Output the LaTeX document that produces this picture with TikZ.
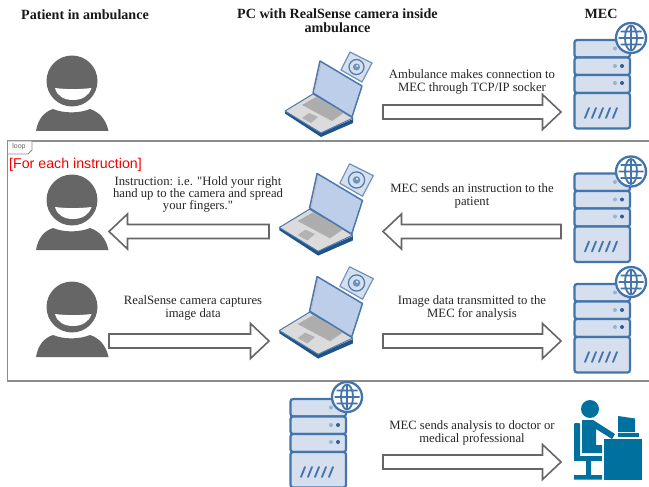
\documentclass[tikz,border=0pt]{standalone}
\usepackage{fontspec}
\setsansfont{Liberation Sans}
\newfontfamily\plainserif{Liberation Serif}
\usetikzlibrary{calc}
\definecolor{srvfill}{HTML}{D6DFED}
\definecolor{srvline}{HTML}{4474AC}
\definecolor{srvdot}{HTML}{2F5D98}
\definecolor{scr}{HTML}{BDCEEA}
\definecolor{lapline}{HTML}{4C78AC}
\definecolor{lapdark}{HTML}{1F5488}
\definecolor{personc}{HTML}{666666}
\definecolor{docc}{HTML}{00709F}
\definecolor{frameg}{HTML}{8C8C8C}
\newcommand{\blockarrow}[2]{%
  \draw[blockarr] ($(#1)+(0,-7)$) -- ($($(#2)!18.5pt!(#1)$)+(0,-7)$) -- ($($(#2)!18.5pt!(#1)$)+(0,-17.5)$)
    -- (#2) -- ($($(#2)!18.5pt!(#1)$)+(0,17.5)$) -- ($($(#2)!18.5pt!(#1)$)+(0,7)$) -- ($(#1)+(0,7)$) -- cycle;}
\tikzset{
  x=1pt,y=-1pt,
  blockarr/.style={draw=personc,line width=1.6pt,fill=white,line join=miter},
  lbl/.style={font=\plainserif\fontsize{12.7}{12.4}\selectfont,align=center,inner sep=0pt,text=black!85},
  head/.style={font=\plainserif\bfseries\fontsize{14.1}{14.2}\selectfont,align=center,inner sep=0pt,text=black!90},
  srvbox/.style={draw=srvline,fill=srvfill,line width=2.2pt,rounded corners=2.5pt},
  patient/.pic={
    \fill[personc] (36,131) .. controls (38,119) and (44,112) .. (53,109) .. controls (64,113.5) and (79,113.5) .. (90,109) .. controls (99,112) and (106,119) .. (108.5,131) -- cycle;
    \fill[personc] (72,81) circle[radius=25.5];
    \fill[white] (55,88) .. controls (66,89.5) and (80,89.5) .. (91.5,88) .. controls (89,96) and (82,100) .. (73,100) .. controls (64,100) and (57,96) .. (55,88) -- cycle;
  },
  server/.pic={
    \draw[srvbox] (574.5,40) rectangle (630,57.5);
    \draw[srvbox] (574.5,57.5) rectangle (630,75);
    \draw[srvbox] (574.5,75) rectangle (630,93);
    \draw[srvbox] (574.5,93) rectangle (630,128.5);
    \fill[srvline!55] (615,48.5) circle[radius=2];
    \fill[srvline!55] (615,66) circle[radius=2];
    \fill[srvdot] (622,66) circle[radius=2];
    \fill[srvline!55] (615,83) circle[radius=2];
    \fill[srvdot] (622,83) circle[radius=2];
    \draw[srvline,line width=1.8pt,line cap=round]
      (585,118) -- (589,108) (592,118) -- (596,108) (599,118) -- (603,108) (606,118) -- (610,108) (613,118) -- (617,108);
    \draw[srvline,fill=white,line width=2.3pt] (631,38) circle[radius=15];
    \draw[srvline,line width=1.8pt] (631,38) ellipse[x radius=6,y radius=12.5] (631,25.5) -- (631,50.5)
      (618.5,38) -- (643.5,38) (620.5,31.5) -- (641.5,31.5) (620.5,44.5) -- (641.5,44.5);
  },
  laptop/.pic={
    % camera
    \draw[lapline!80,fill=srvfill,line width=1.2pt,line join=round] (-6,-15) -- (16,-4) -- (6,15) -- (-15,3) -- cycle;
    \draw[lapline,fill=srvfill,line width=1.2pt] (0.5,0) circle[radius=7.5];
    \fill[lapline!80] (0.5,0) circle[radius=3.5];
    \fill[white] (1,-1) circle[radius=1];
    % base underside
    \fill[lapdark] (-71,44) -- (-71,46.5) -- (-35,70) -- (-3,56) -- (-3,52) -- (-35,66) -- cycle;
    \draw[lapline,fill=black!14,line width=1pt,line join=round] (-71,44) -- (-43,27) -- (-3,51) -- (-35,66) -- cycle;
    % keyboard and touchpad
    \fill[black!32] (-54,38) -- (-40,30) -- (-11,45) -- (-24,54) -- cycle;
    \fill[black!30] (-54,51) -- (-47,46) -- (-38,50) -- (-45,56) -- cycle;
    % lid
    \draw[lapline,fill=scr,line width=1.5pt,line join=round] (-36,-6) -- (6,19) -- (-4,50) -- (-43,26) -- cycle;
    \draw[black!25,line width=.8pt] (-35,-3) -- (-41.5,25);
  },
}
\begin{document}
\begin{tikzpicture}
\useasboundingbox (0,0) rectangle (649,487);
\fill[white] (0,0) rectangle (649,487);
% loop frame
\draw[frameg,line width=1.6pt] (649,141) -- (7.5,141) -- (7.5,381) -- (649,381);
\draw[frameg,fill=white,line width=.9pt] (7.5,141) -- (32,141) -- (32,150) -- (28,154) -- (7.5,154) -- cycle;
\node[inner sep=0pt,font=\sffamily\fontsize{7}{7}\selectfont,text=black!60] (looptag) at (19,146.5) {loop};
\node[inner sep=0pt,anchor=west,font=\sffamily\fontsize{14.2}{15}\selectfont,text=red!95!black] (guard) at (9,164.5) {[For each instruction]};

% headings
\node[head] (h1) at (85,15) {Patient in ambulance};
\node[head] (h2) at (337.5,21) {PC with RealSense camera inside\\ambulance};
\node[head] (h3) at (601,14) {MEC};

% patients
\pic at (0,0) {patient};
\pic at (0,119) {patient};
\pic at (0,226) {patient};

% laptops
\pic at (356,67) {laptop};
\pic[scale=1.08] at (356,180) {laptop};
\pic[scale=1.08] at (356,283) {laptop};

% servers
\pic at (0,0) {server};
\pic at (0,133.5) {server};
\pic at (0,244) {server};
\pic at (-284,359) {server};

% doctor
\fill[docc] (590,409) circle[radius=9];
\fill[docc,rounded corners=1pt] (574,423) rectangle (580,461);
\fill[docc] (574,455.5) rectangle (602,461);
\fill[docc] (582,420) -- (593,420) -- (615,434) -- (612,439) -- (596,429) -- (596,445) -- (602,445) -- (602,453) -- (582,453) -- cycle;
\fill[docc] (586,461) rectangle (591,475) (574,475) rectangle (602,479.5);
\fill[docc] (604,438.5) rectangle (642,479.5);
\fill[docc] (618,416) -- (635,418.5) -- (635,432) -- (618,432) -- cycle;
\fill[docc] (618,433) rectangle (639,437);

% arrow ends
\coordinate (a1s) at (383,112);  \coordinate (a1e) at (561,112);
\coordinate (a2s) at (269,231.5);\coordinate (a2e) at (109,231.5);
\coordinate (a3s) at (561,231.5);\coordinate (a3e) at (383,231.5);
\coordinate (a4s) at (109,341);  \coordinate (a4e) at (269,341);
\coordinate (a5s) at (383,341);  \coordinate (a5e) at (561,341);
\coordinate (a6s) at (383,462);  \coordinate (a6e) at (561,462);
\blockarrow{a1s}{a1e}
\blockarrow{a2s}{a2e}
\blockarrow{a3s}{a3e}
\blockarrow{a4s}{a4e}
\blockarrow{a5s}{a5e}
\blockarrow{a6s}{a6e}

% labels
\node[lbl] (t1) at (472,82) {Ambulance makes connection to\\MEC through TCP/IP socker};
\node[lbl] (t2) at (198,194.5) {Instruction: i.e. "Hold your right\\hand up to the camera and spread\\your fingers."};
\node[lbl] (t3) at (472,196) {MEC sends an instruction to the\\patient};
\node[lbl] (t4) at (193,308) {RealSense camera captures\\image data};
\node[lbl] (t5) at (472,308) {Image data transmitted to the\\MEC for analysis};
\node[lbl] (t6) at (472,433) {MEC sends analysis to doctor or\\medical professional};
\end{tikzpicture}
\end{document}
